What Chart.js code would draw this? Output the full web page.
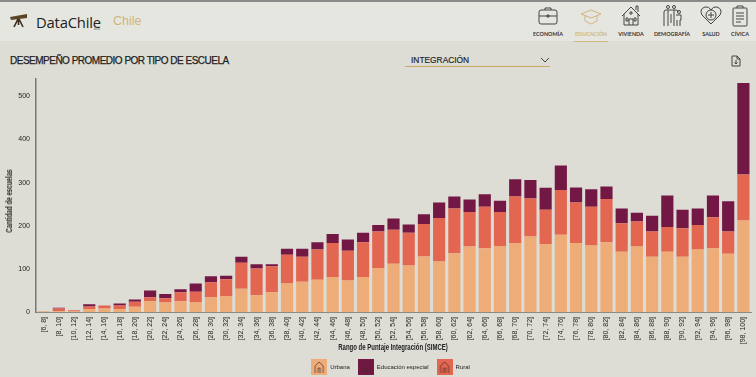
<!DOCTYPE html>
<html lang="es">
<head>
<meta charset="utf-8">
<title>DataChile</title>
<script src="https://cdn.jsdelivr.net/npm/chart.js@4"></script>
<style>
    html, body { margin: 0; padding: 0; }
    body { width: 756px; height: 377px; overflow: hidden; background: #dddcd5; position: relative; font-family: "Liberation Sans", sans-serif; color: #222; }
    .top { position: absolute; left: 0; top: 0; width: 756px; height: 39px; border-top: 2px solid #8b8b89; background: #e6e6e0; }
    .brand { position: absolute; left: 36px; top: 12px; font: 14.8px "Open Sans", sans-serif; color: #222; letter-spacing: -0.2px; }
    .beta { position: absolute; left: 94px; top: 27px; font: 3px "Open Sans", sans-serif; color: #555; }
    .place { position: absolute; left: 113px; top: 14px; font: 12.5px "Liberation Sans", sans-serif; color: #d1b57e; }
    .logo { position: absolute; left: 10px; top: 14px; }
    .nav { position: absolute; top: 5px; width: 44px; text-align: center; font: bold 5.4px Lato, sans-serif; color: #333; }
    .nav svg { display: block; margin: 0 auto 2px; }
    .nav span { display: block; position: absolute; left: 0; right: 0; top: 26px; }
    .on { color: #d1b57e; }
    .underline { position: absolute; left: 574px; top: 41px; width: 34px; height: 1px; background: #d1b57e; }
    h1 { position: absolute; left: 10px; top: 55px; margin: 0; font: normal 10px "Liberation Sans", sans-serif; letter-spacing: -0.5px; -webkit-text-stroke: 0.25px #222; white-space: nowrap; }
    .select { position: absolute; left: 405px; top: 54px; width: 145px; height: 12px; border-bottom: 1px solid #c9a86a; font: 8.4px "Liberation Sans", sans-serif; -webkit-text-stroke: 0.15px #222; text-indent: 6px; line-height: 13px; }
    .select svg { position: absolute; left: 135px; top: 3px; }
    .dl { position: absolute; left: 731px; top: 55px; }
    #wrap { position: absolute; left: 0; top: 72px; width: 756px; height: 308px; }
    .axis-title { position: absolute; white-space: nowrap; font: bold 8.6px "Liberation Sans", sans-serif; color: #222; transform-origin: center center; }
    #titleX { left: 393px; top: 342px; transform: translateX(-50%) scaleX(0.7); }
    #titleY { left: 9px; top: 201px; transform: translate(-50%, -50%) rotate(-90deg) scaleX(0.72); }
</style>
</head>
<body>
<div class="top"></div>
<svg class="logo" width="18" height="14" viewBox="0 0 18 14">
    <path d="M0 3 L17 0 L17 4 L1 6 Z" fill="#5a4526"/>
    <path d="M8 5 L4 13 M9 5 L13 13 M8.5 5 L8.5 11" stroke="#3a2c18" stroke-width="1.6" fill="none"/>
</svg>
<div class="brand">DataChile</div>
<div class="beta">beta</div>
<div class="place">Chile</div>

<div class="nav" style="left:526px">
    <svg width="22" height="22" viewBox="0 0 22 22" fill="none" stroke="#444" stroke-width="1"><rect x="2" y="5" width="18" height="14" rx="2"/><path d="M8 5V3h6v2M2 11h18M10 10h2v2h-2z"/></svg>
    <span>ECONOMÍA</span>
</div>
<div class="nav on" style="left:569px">
    <svg width="22" height="22" viewBox="0 0 22 22" fill="none" stroke="#d1b57e" stroke-width="1"><path d="M1 9l10-4 10 4-10 4zM5 11v5l6 3 6-3v-5"/></svg>
    <span>EDUCACIÓN</span>
</div>
<div class="nav" style="left:609px">
    <svg width="22" height="22" viewBox="0 0 22 22" fill="none" stroke="#444" stroke-width="1"><path d="M2 11L11 2l9 9M4 9v11h14V9M16 5V1h2v6M9 20v-6h4v6M6 13h2v3H6zM14 13h2v3h-2zM10 7h2v2h-2z"/></svg>
    <span>VIVIENDA</span>
</div>
<div class="nav" style="left:650px">
    <svg width="22" height="22" viewBox="0 0 22 22" fill="none" stroke="#444" stroke-width="1"><circle cx="7" cy="2" r="1.5"/><circle cx="13" cy="2" r="1.5"/><circle cx="18" cy="7" r="1.5"/><path d="M3 21V7q0-2 2-2h10q2 0 2 2M7 5v16M13 5v16M10 9v9M15 10h5v5h-1v6M16 21v-6"/></svg>
    <span>DEMOGRAFÍA</span>
</div>
<div class="nav" style="left:689px">
    <svg width="22" height="22" viewBox="0 0 22 22" fill="none" stroke="#444" stroke-width="1"><path d="M11 19L2 10Q-1 4 5 2q4-1 6 3 2-4 6-3 6 2 3 8z"/><circle cx="11" cy="10" r="5"/><path d="M11 7v6M8 10h6"/></svg>
    <span>SALUD</span>
</div>
<div class="nav" style="left:718px">
    <svg width="22" height="22" viewBox="0 0 22 22" fill="none" stroke="#444" stroke-width="1"><rect x="4" y="3" width="14" height="18" rx="1"/><path d="M8 3V1h6v2M7 8h8M7 11h8M7 14h8M7 17h5"/></svg>
    <span>CÍVICA</span>
</div>
<div class="underline"></div>

<h1>DESEMPEÑO PROMEDIO POR TIPO DE ESCUELA</h1>
<div class="select">INTEGRACIÓN
    <svg width="10" height="6" viewBox="0 0 10 6" fill="none" stroke="#333" stroke-width="0.9"><path d="M1 1l4 4 4-4"/></svg>
</div>
<svg class="dl" width="10" height="12" viewBox="0 0 10 12" fill="none" stroke="#333" stroke-width="0.9"><path d="M1 1h5l3 3v7H1zM6 1v3h3M5 5v4M3.5 7.5L5 9l1.5-1.5"/></svg>

<div id="wrap"><canvas id="escuelasChart"></canvas></div>
<div class="axis-title" id="titleX">Rango de Puntaje Integración (SIMCE)</div>
<div class="axis-title" id="titleY">Cantidad de escuelas</div>

<script>
const categories = ["[6, 8]", "[8, 10]", "[10, 12]", "[12, 14]", "[14, 16]", "[16, 18]", "[18, 20]", "[20, 22]",
    "[22, 24]", "[24, 26]", "[26, 28]", "[28, 30]", "[30, 32]", "[32, 34]", "[34, 36]", "[36, 38]",
    "[38, 40]", "[40, 42]", "[42, 44]", "[44, 46]", "[46, 48]", "[48, 50]", "[50, 52]", "[52, 54]",
    "[54, 56]", "[56, 58]", "[58, 60]", "[60, 62]", "[62, 64]", "[64, 66]", "[66, 68]", "[68, 70]",
    "[70, 72]", "[72, 74]", "[74, 76]", "[76, 78]", "[78, 80]", "[80, 82]", "[82, 84]", "[84, 86]",
    "[86, 88]", "[88, 90]", "[90, 92]", "[92, 94]", "[94, 96]", "[96, 98]", "[98, 100]"];

const urbana = [1, 2, 1, 7, 8, 7, 12, 25, 22, 25, 23, 34, 37, 54, 39, 46, 66, 70, 75, 81, 73, 81, 102, 112,
    108, 129, 117, 136, 152, 148, 153, 160, 175, 157, 179, 160, 154, 162, 140, 152, 128, 140, 128, 145, 148, 135, 212];
const rural = [1, 6, 3, 6, 7, 8, 12, 9, 10, 21, 24, 35, 39, 60, 62, 60, 67, 58, 70, 79, 69, 81, 85, 79,
    76, 75, 101, 104, 80, 96, 79, 108, 88, 80, 104, 94, 90, 100, 66, 58, 59, 57, 66, 57, 72, 52, 107];
const especial = [0, 2, 0, 5, 0, 5, 5, 16, 10, 7, 19, 14, 8, 14, 10, 5, 14, 19, 17, 21, 26, 22, 15, 26,
    19, 23, 36, 28, 29, 29, 26, 40, 43, 51, 57, 35, 41, 29, 34, 20, 36, 73, 43, 38, 50, 70, 212];

const colorUrbana = "#eead78";
const colorRural = "#e26650";
const colorEspecial = "#731845";
const tickFont = '"Liberation Sans", sans-serif';

// legend icon: coloured square with the little school drawn on it
function schoolIcon(color) {
    const c = document.createElement("canvas");
    c.width = 16;
    c.height = 16;
    const g = c.getContext("2d");
    g.fillStyle = color;
    g.fillRect(0, 0, 16, 16);
    g.strokeStyle = "rgba(70,40,40,0.7)";
    g.lineWidth = 1;
    g.beginPath();
    g.moveTo(4, 14); g.lineTo(4, 7); g.lineTo(8, 3); g.lineTo(12, 7); g.lineTo(12, 14);
    g.moveTo(7, 14); g.lineTo(7, 9); g.lineTo(9, 9); g.lineTo(9, 14);
    g.stroke();
    return c;
}

// the legend sits centred under the plot, not under the canvas
const legendShift = {
    id: "legendShift",
    afterLayout: function (chart) {
        chart.legend.left += 15;
        chart.legend.right += 15;
    }
};

document.addEventListener("DOMContentLoaded", function () {
    const ctx = document.getElementById("escuelasChart").getContext("2d");

    new Chart(ctx, {
        type: "bar",
        plugins: [legendShift],
        data: {
            labels: categories,
            datasets: [
                { label: "Urbana", data: urbana, backgroundColor: colorUrbana, order: 0, pointStyle: schoolIcon(colorUrbana) },
                { label: "Educación especial", data: especial, backgroundColor: colorEspecial, order: 2, pointStyle: schoolIcon(colorEspecial) },
                { label: "Rural", data: rural, backgroundColor: colorRural, order: 1, pointStyle: schoolIcon(colorRural) }
            ]
        },
        options: {
            responsive: true,
            maintainAspectRatio: false,
            animation: false,
            barPercentage: 0.8,
            categoryPercentage: 1,
            layout: { padding: { top: 7, right: 5, bottom: 0, left: 0 } },
            scales: {
                x: {
                    stacked: true,
                    afterFit: function (scale) { scale.height = 44; },
                    grid: { display: false, tickLength: 3, drawTicks: true },
                    border: { color: "#8a8a86", width: 1 },
                    ticks: { minRotation: 90, maxRotation: 90, autoSkip: false, padding: 2, color: "#222", font: { family: tickFont, size: 7 } }
                },
                y: {
                    stacked: true,
                    min: 0,
                    max: 540,
                    afterFit: function (scale) { scale.width = 36; },
                    grid: { display: false, tickLength: 3 },
                    border: { color: "#77777a", width: 1.5 },
                    ticks: { stepSize: 100, includeBounds: false, padding: 3, color: "#222", font: { family: tickFont, size: 7 } }
                }
            },
            plugins: {
                legend: {
                    position: "bottom",
                    labels: {
                        usePointStyle: true,
                        pointStyleWidth: 16,
                        boxHeight: 6,
                        padding: 8,
                        color: "#222",
                        font: { family: tickFont, size: 6 },
                        sort: function (a, b) { return a.datasetIndex - b.datasetIndex; }
                    }
                },
                tooltip: { enabled: false }
            }
        }
    });
});
</script>
</body>
</html>
